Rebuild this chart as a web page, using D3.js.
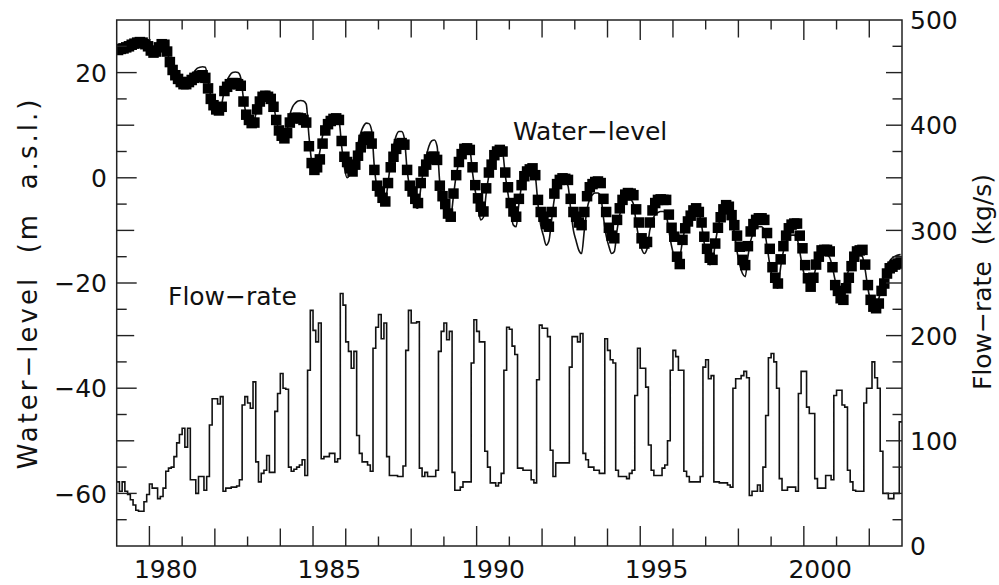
<!DOCTYPE html>
<html>
<head>
<meta charset="utf-8">
<script src="https://cdn.jsdelivr.net/npm/d3@7"></script>
<style>
  body { margin: 0; background: #fff; }
  text { font-family: "DejaVu Sans", sans-serif; font-size: 25px; fill: #111; }
</style>
</head>
<body>
<div id="chart"></div>
<script>
const startYear = 1979;
const yearLabels = [1980, 1985, 1990, 1995, 2000];
const levelLabels = [20, 0, -20, -40, -60];
const flowLabels = [0, 100, 200, 300, 400, 500];

// monthly values, Jan 1979 .. Dec 2002 (one row per year)
const levelObserved = [
  24.3, 24.5, 24.6, 24.8, 25.0, 25.3, 25.5, 25.7, 25.8, 25.7, 25.4, 25.0,
  24.2, 23.8, 24.0, 24.8, 25.4, 25.3, 24.0, 22.0, 20.5, 19.5, 18.8, 18.2,
  17.8, 17.8, 18.2, 18.6, 19.0, 19.2, 19.4, 19.5, 19.0, 17.0, 15.0, 13.8,
  13.0, 12.8, 13.5, 16.5, 17.3, 17.8, 18.0, 18.0, 17.8, 17.5, 14.5, 12.0,
  11.0, 10.4, 10.5, 13.0, 14.5, 15.4, 15.6, 15.4, 15.0, 13.5, 11.0, 9.0,
  8.0, 7.5, 8.5, 10.5, 11.3, 11.4, 11.4, 11.3, 11.0, 10.5, 6.0, 2.8,
  1.5, 2.0, 3.5, 6.5, 9.0, 10.2, 10.8, 11.2, 11.3, 11.0, 7.0, 4.0,
  3.0, 1.8, 1.2, 2.5, 4.2, 5.8, 7.2, 7.8, 7.8, 6.5, 1.5, -1.5,
  -2.6, -3.8, -4.5, -1.0, 2.0, 4.0, 5.5, 6.4, 6.6, 6.3, 1.5, -1.5,
  -2.6, -4.0, -4.8, -1.0, 1.2, 2.5, 3.5, 4.0, 4.0, 3.4, -1.5, -3.5,
  -5.0, -6.8, -7.4, -3.0, 0.5, 3.0, 4.5, 5.5, 5.6, 5.3, 2.0, -1.4,
  -3.9, -5.5, -6.4, -2.0, 1.0, 2.5, 4.3, 5.0, 5.3, 5.0, 1.0, -1.8,
  -4.8, -6.4, -7.4, -4.0, -1.4, 0.3, 1.2, 1.6, 1.8, 0.5, -4.2, -6.5,
  -7.4, -8.8, -9.3, -6.5, -3.0, -1.2, -0.4, -0.1, -0.2, -0.4, -4.0, -6.5,
  -7.4, -8.5, -9.0, -6.5, -3.5, -1.8, -1.2, -0.8, -0.7, -1.0, -4.0, -6.5,
  -9.5, -11.0, -11.5, -8.0, -5.8, -4.2, -3.2, -2.9, -3.0, -3.3, -6.0, -8.5,
  -11.5, -12.5, -12.2, -8.5, -6.2, -4.8, -4.2, -4.1, -4.2, -4.2, -7.0, -9.5,
  -11.2, -15.0, -16.4, -11.8, -9.6, -8.3, -7.2, -6.2, -5.8, -6.5, -8.5, -11.2,
  -13.5, -15.2, -15.6, -12.5, -9.5, -7.5, -6.0, -5.2, -5.5, -7.1, -9.0, -11.0,
  -13.1, -15.6, -16.6, -13.0, -10.2, -8.8, -8.0, -7.7, -7.7, -8.0, -10.5, -13.5,
  -17.0, -19.0, -20.1, -15.5, -13.0, -11.0, -9.6, -8.9, -8.7, -8.7, -11.0, -13.4,
  -16.6, -19.1, -20.7, -19.0, -16.5, -15.0, -13.8, -13.7, -13.7, -14.0, -17.0, -20.4,
  -21.5, -22.9, -23.2, -21.0, -19.0, -16.8, -15.0, -14.0, -13.8, -13.7, -16.5, -20.4,
  -23.2, -24.5, -24.8, -23.9, -21.5, -20.1, -18.2, -17.2, -16.9, -16.5, -16.3, -16.1
];

const levelSimulated = [
  24.0, 24.3, 24.6, 24.9, 25.2, 25.5, 25.7, 25.8, 25.8, 25.6, 25.2, 24.8,
  24.5, 24.3, 24.2, 24.5, 25.0, 25.2, 24.0, 22.0, 20.5, 19.5, 18.8, 18.3,
  18.0, 18.0, 18.4, 19.2, 20.2, 20.8, 21.0, 21.1, 21.0, 18.5, 15.5, 14.0,
  13.2, 13.0, 14.0, 16.8, 18.5, 19.5, 20.0, 20.1, 20.0, 19.0, 15.0, 12.0,
  11.0, 10.5, 11.0, 13.5, 15.5, 16.2, 16.4, 16.4, 16.0, 14.0, 11.0, 9.0,
  8.0, 7.5, 9.0, 12.0, 13.5, 14.2, 14.6, 14.7, 14.6, 14.0, 8.0, 3.0,
  1.0, 2.5, 5.0, 8.0, 10.0, 11.0, 11.5, 11.6, 11.5, 11.0, 6.0, 2.0,
  0.0, 0.5, 1.5, 4.0, 6.5, 8.5, 9.8, 10.4, 10.3, 9.0, 2.0, -2.0,
  -3.5, -4.8, -4.5, -1.0, 3.0, 6.0, 8.0, 8.8, 8.8, 7.5, 1.5, -2.0,
  -4.0, -5.5, -5.8, -2.0, 1.5, 4.0, 6.0, 7.0, 7.2, 6.0, -1.0, -4.5,
  -6.5, -8.0, -7.5, -3.5, 0.5, 3.0, 5.0, 6.0, 6.2, 5.5, 1.0, -2.5,
  -5.5, -8.0, -7.5, -3.0, 0.5, 3.0, 4.8, 5.5, 5.6, 5.0, 0.5, -3.0,
  -6.5, -9.0, -9.3, -5.0, -1.5, 0.5, 1.5, 2.0, 2.1, 0.5, -5.0, -9.0,
  -11.0, -12.8, -12.0, -8.0, -4.0, -2.0, -1.0, -0.6, -0.8, -1.5, -6.0, -10.0,
  -12.0, -13.8, -14.4, -10.0, -6.0, -4.0, -3.2, -2.9, -2.9, -3.5, -7.5, -11.0,
  -13.0, -14.4, -14.0, -10.0, -7.0, -5.2, -4.4, -4.2, -4.2, -5.0, -8.5, -11.5,
  -13.5, -14.4, -13.5, -10.0, -8.0, -7.0, -6.6, -6.4, -6.4, -7.0, -10.0, -13.0,
  -15.0, -15.6, -15.0, -12.0, -9.5, -8.0, -6.8, -6.0, -5.8, -6.5, -9.0, -12.5,
  -15.0, -16.5, -16.0, -12.5, -9.5, -7.5, -6.6, -6.4, -6.5, -7.5, -10.5, -14.0,
  -16.5, -18.2, -18.8, -15.0, -12.0, -10.5, -9.6, -9.3, -9.3, -10.0, -13.0, -16.5,
  -19.0, -20.5, -21.0, -17.0, -14.0, -12.2, -11.3, -10.9, -10.9, -11.5, -14.0, -17.0,
  -19.0, -20.5, -20.7, -19.0, -17.0, -15.5, -14.8, -14.7, -14.7, -15.2, -17.0, -19.5,
  -20.5, -21.0, -20.5, -19.0, -17.5, -15.8, -14.8, -14.5, -14.5, -15.0, -17.5, -21.0,
  -23.5, -24.8, -24.5, -23.0, -20.5, -18.5, -16.8, -15.8, -15.2, -14.9, -14.7, -14.6
];

const flowRate = [
  61, 52, 61, 52, 49, 44, 39, 34, 33, 33, 42, 49,
  59, 55, 55, 45, 47, 55, 71, 74, 75, 85, 98, 106,
  112, 94, 112, 63, 63, 50, 66, 66, 53, 66, 115, 140,
  140, 135, 142, 52, 55, 55, 56, 56, 57, 63, 134, 142,
  136, 131, 156, 80, 61, 69, 72, 86, 70, 70, 128, 145,
  164, 150, 149, 75, 71, 73, 75, 77, 82, 67, 167, 224,
  205, 194, 212, 83, 85, 85, 88, 88, 80, 83, 240, 229,
  194, 185, 169, 185, 105, 88, 80, 80, 77, 71, 188, 208,
  220, 197, 212, 85, 67, 67, 67, 66, 66, 76, 186, 224,
  212, 212, 213, 74, 66, 70, 66, 66, 66, 72, 185, 204,
  212, 196, 204, 70, 53, 53, 56, 61, 61, 61, 174, 215,
  204, 194, 194, 90, 75, 60, 60, 57, 60, 69, 167, 208,
  206, 190, 182, 74, 74, 72, 72, 72, 63, 60, 158, 210,
  207, 207, 199, 91, 66, 79, 79, 79, 79, 79, 170, 199,
  199, 194, 202, 88, 82, 75, 75, 72, 72, 69, 69, 197,
  186, 177, 174, 72, 66, 66, 66, 64, 69, 72, 143, 188,
  169, 169, 151, 96, 72, 67, 67, 67, 74, 77, 100, 167,
  186, 180, 167, 167, 71, 66, 61, 61, 61, 61, 66, 170,
  177, 159, 162, 61, 61, 60, 60, 60, 58, 56, 150, 159,
  159, 162, 166, 160, 48, 52, 52, 58, 52, 75, 124, 179,
  183, 175, 150, 64, 53, 53, 56, 56, 56, 52, 145, 166,
  166, 132, 126, 126, 64, 55, 55, 55, 67, 67, 63, 143,
  148, 148, 134, 132, 72, 61, 53, 52, 52, 52, 136, 150,
  150, 175, 160, 150, 90, 50, 50, 45, 45, 50, 50, 118
];

(function () {
  const width = 999;
  const height = 585;
  const plotLeft = 116.7, plotRight = 902, plotTop = 20, plotBottom = 546;

  const svg = d3.select("#chart").append("svg")
    .attr("width", width)
    .attr("height", height);

  const x = d3.scaleLinear().domain([1979, 2003]).range([plotLeft, plotRight]);
  const yLevel = d3.scaleLinear().domain([-70, 30]).range([plotBottom, plotTop]);
  const yFlow = d3.scaleLinear().domain([0, 500]).range([plotBottom, plotTop]);

  svg.append("clipPath").attr("id", "plot-clip")
    .append("rect")
    .attr("x", plotLeft).attr("y", plotTop)
    .attr("width", plotRight - plotLeft).attr("height", plotBottom - plotTop);

  const plot = svg.append("g").attr("clip-path", "url(#plot-clip)");

  // flow-rate as monthly steps
  const flowPts = flowRate.map((v, i) => ({ t: startYear + i / 12, v }));
  flowPts.push({ t: startYear + flowRate.length / 12, v: flowRate[flowRate.length - 1] });

  plot.append("path")
    .datum(flowPts)
    .attr("fill", "none")
    .attr("stroke", "#111")
    .attr("stroke-width", 1.6)
    .attr("d", d3.line().curve(d3.curveStepAfter).x(d => x(d.t)).y(d => yFlow(d.v)));

  // simulated water-level (line)
  const simPts = levelSimulated.map((v, i) => ({ t: startYear + (i + 0.5) / 12, v }));
  simPts.unshift({ t: startYear, v: levelSimulated[0] });
  plot.append("path")
    .datum(simPts)
    .attr("fill", "none")
    .attr("stroke", "#111")
    .attr("stroke-width", 1.6)
    .attr("d", d3.line().curve(d3.curveMonotoneX).x(d => x(d.t)).y(d => yLevel(d.v)));

  // observed water-level (squares)
  const sq = 10.5;
  plot.selectAll("rect.obs")
    .data(levelObserved)
    .enter()
    .append("rect")
    .attr("class", "obs")
    .attr("x", (d, i) => x(startYear + (i + 0.5) / 12) - sq / 2)
    .attr("y", d => yLevel(d) - sq / 2)
    .attr("width", sq)
    .attr("height", sq)
    .attr("fill", "#000");

  // frame
  svg.append("rect")
    .attr("x", plotLeft).attr("y", plotTop)
    .attr("width", plotRight - plotLeft).attr("height", plotBottom - plotTop)
    .attr("fill", "none")
    .attr("stroke", "#222")
    .attr("stroke-width", 1.5);

  // ticks
  const ticks = svg.append("g").attr("stroke", "#222").attr("stroke-width", 1.4);

  const yearTicks = d3.range(1980, 2003);
  const yearLen = yr => yr % 5 === 0 ? 20 : (yr % 2 === 0 ? 17.5 : 9.5);
  ticks.selectAll("line.xb").data(yearTicks).enter().append("line")
    .attr("class", "xb")
    .attr("x1", d => x(d)).attr("x2", d => x(d))
    .attr("y1", plotBottom).attr("y2", d => plotBottom - yearLen(d));
  ticks.selectAll("line.xt").data(yearTicks).enter().append("line")
    .attr("class", "xt")
    .attr("x1", d => x(d)).attr("x2", d => x(d))
    .attr("y1", plotTop).attr("y2", d => plotTop + yearLen(d));

  const levelTicks = d3.range(-65, 30, 5);
  const levelLen = v => v % 20 === 0 ? 20 : (v % 10 === 0 ? 17.5 : 10);
  ticks.selectAll("line.yl").data(levelTicks).enter().append("line")
    .attr("class", "yl")
    .attr("x1", plotLeft).attr("x2", d => plotLeft + levelLen(d))
    .attr("y1", d => yLevel(d)).attr("y2", d => yLevel(d));

  const flowTicks = d3.range(25, 500, 25);
  const flowLen = v => v % 50 === 0 ? 16 : 9.5;
  ticks.selectAll("line.yr").data(flowTicks).enter().append("line")
    .attr("class", "yr")
    .attr("x1", plotRight).attr("x2", d => plotRight - flowLen(d))
    .attr("y1", d => yFlow(d)).attr("y2", d => yFlow(d));

  // tick labels
  const fmt = v => String(v).replace("-", "\u2212");

  svg.selectAll("text.xl").data(yearLabels).enter().append("text")
    .attr("class", "xl")
    .attr("x", d => x(d + 0.5))
    .attr("y", 577.5)
    .attr("text-anchor", "middle")
    .text(d => d);

  svg.selectAll("text.yll").data(levelLabels).enter().append("text")
    .attr("class", "yll")
    .attr("x", 107)
    .attr("y", d => yLevel(d) + 9.1)
    .attr("text-anchor", "end")
    .text(fmt);

  svg.selectAll("text.yrl").data(flowLabels).enter().append("text")
    .attr("class", "yrl")
    .attr("x", 910)
    .attr("y", d => yFlow(d) + 9.1)
    .text(d => d);

  // axis titles
  svg.append("text")
    .attr("transform", "translate(37,283) rotate(-90)")
    .attr("text-anchor", "middle")
    .style("font-size", "26px")
    .style("letter-spacing", "3px")
    .style("white-space", "pre")
    .text("Water\u2212level  (m  a.s.l.)");

  svg.append("text")
    .attr("transform", "translate(991,282) rotate(-90)")
    .attr("text-anchor", "middle")
    .style("white-space", "pre")
    .text("Flow\u2212rate  (kg/s)");

  // series labels inside the plot
  svg.append("text").attr("x", 513).attr("y", 139.5).text("Water\u2212level");
  svg.append("text").attr("x", 168).attr("y", 305).text("Flow\u2212rate");
})();
</script>
</body>
</html>
